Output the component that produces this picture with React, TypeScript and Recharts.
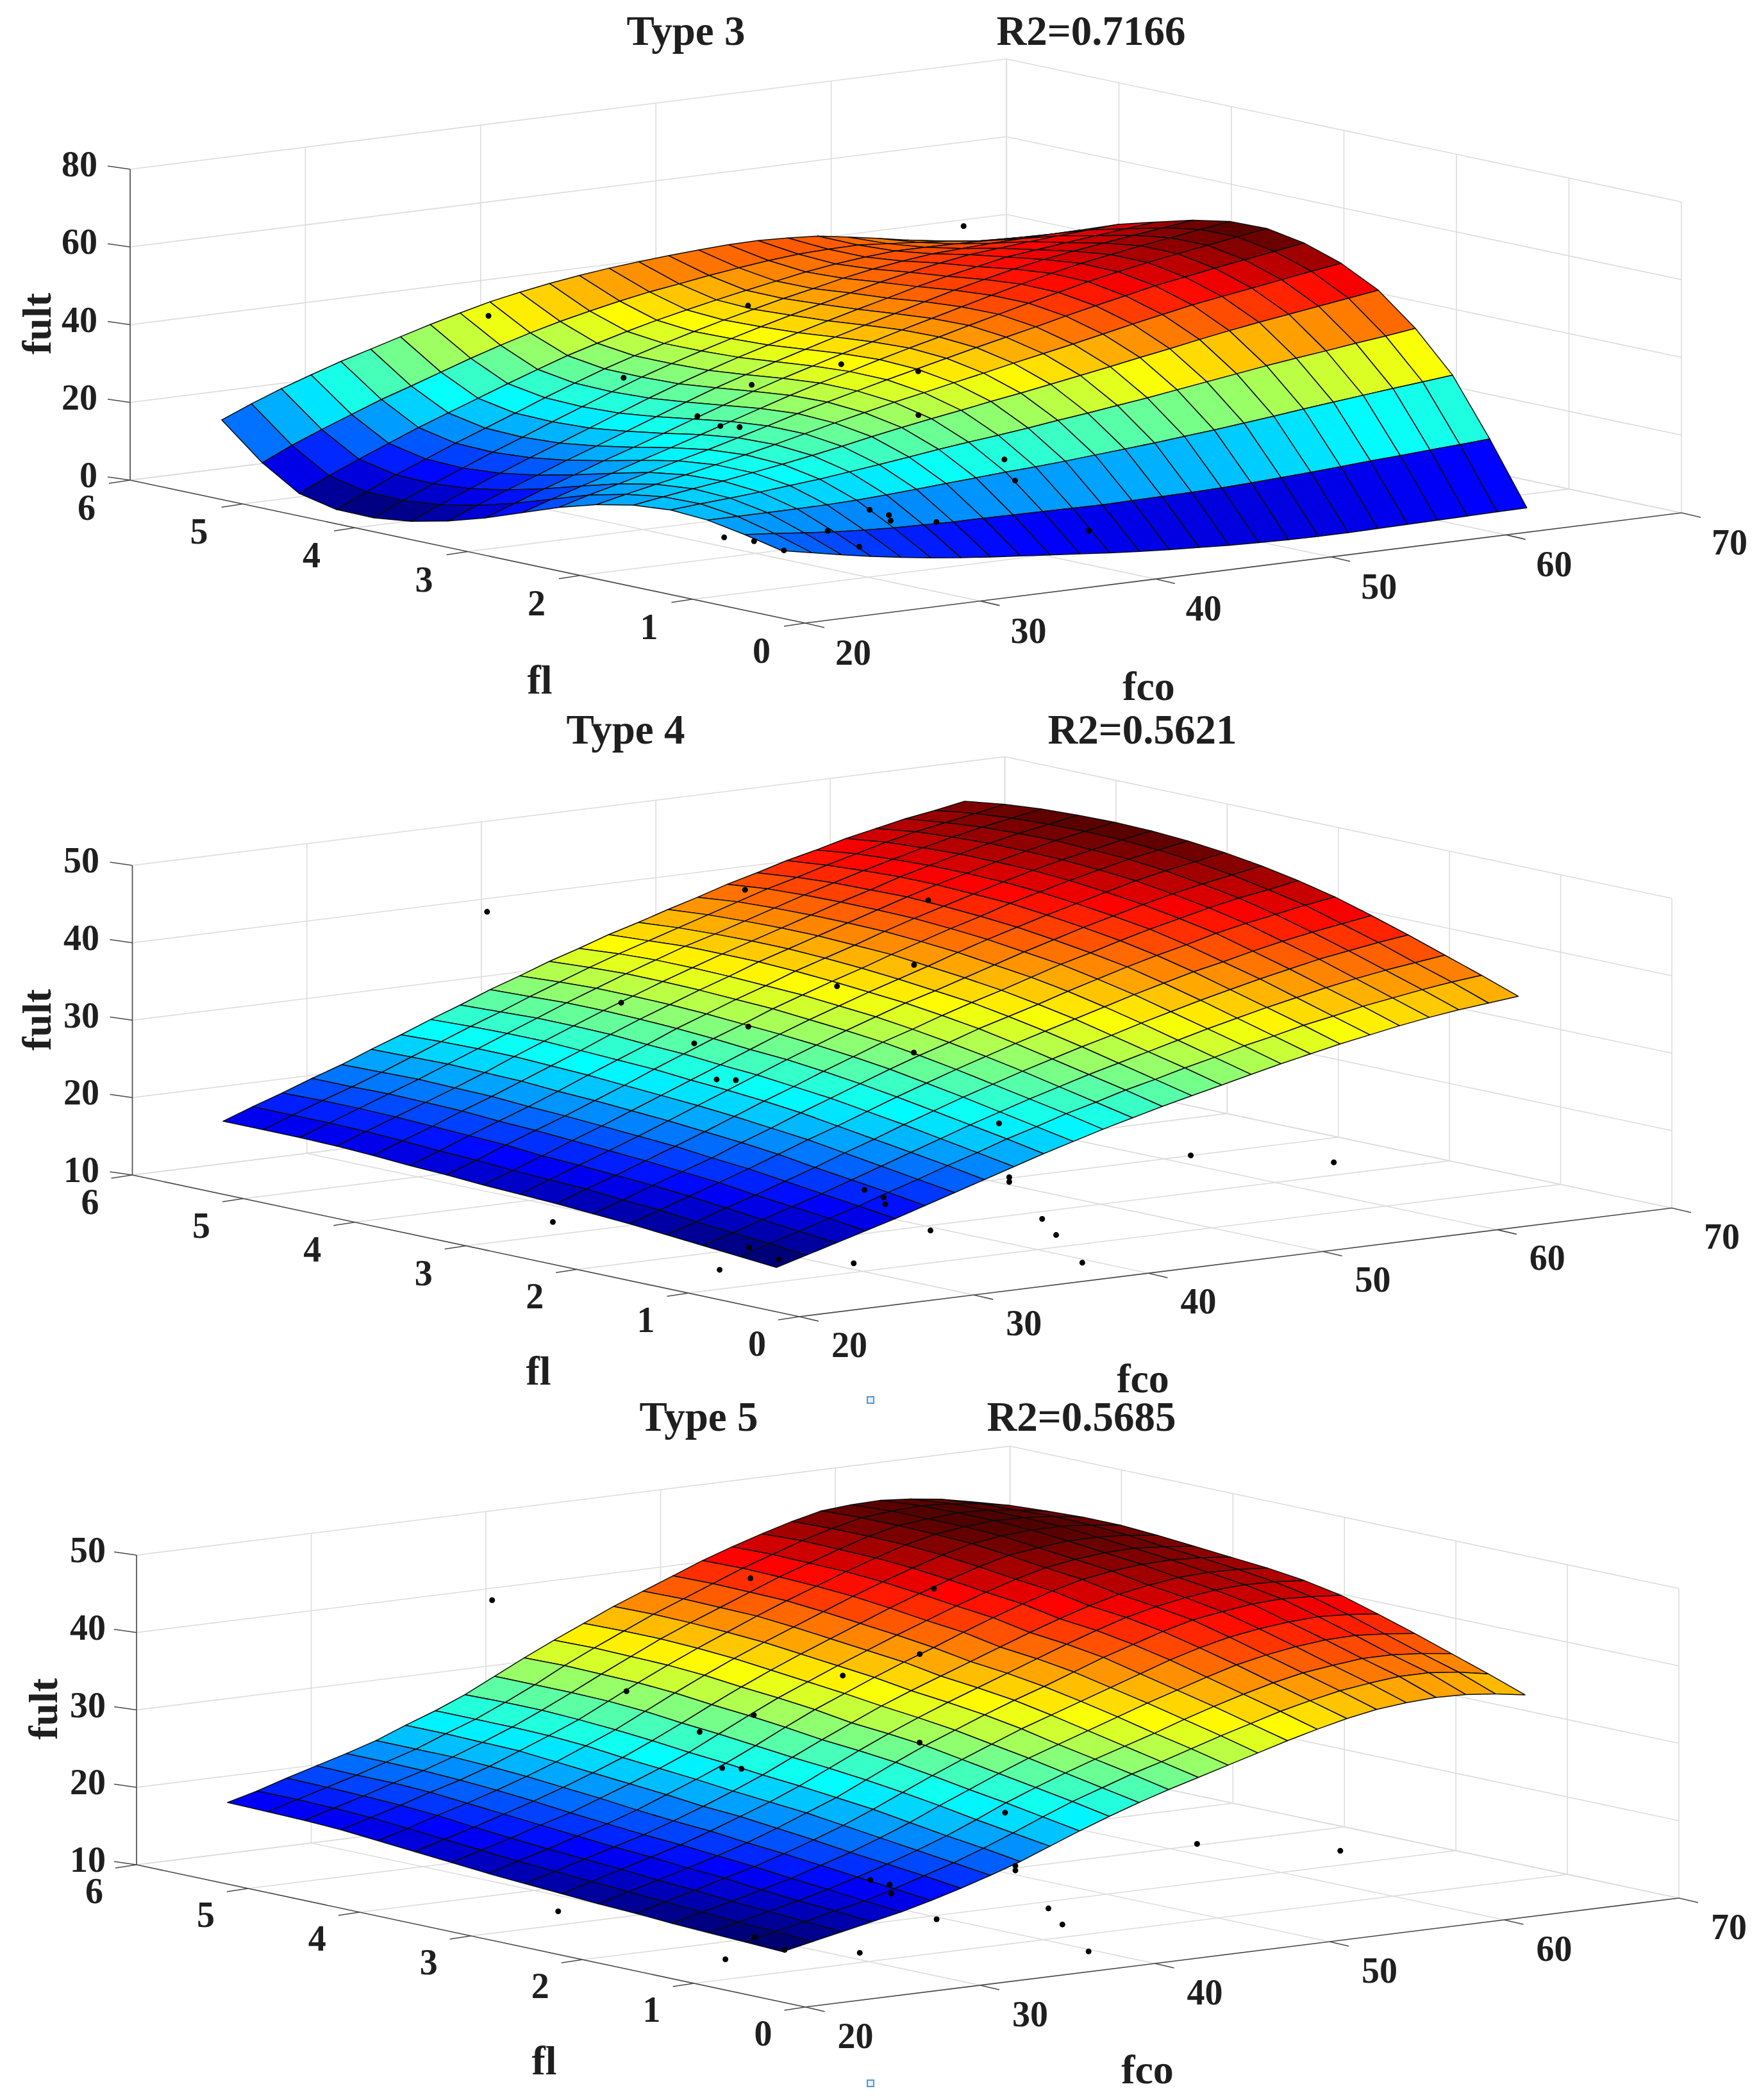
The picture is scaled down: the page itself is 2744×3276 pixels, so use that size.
import { ScatterChart, Scatter, XAxis, YAxis } from 'recharts';

const WIDTH = 2744;
const HEIGHT = 3276;

// surface nodes
const FCO = [21.5, 23.2, 24.9, 26.6, 28.3, 30, 31.7, 33.4, 35.1, 36.8, 38.5, 40.2, 41.9, 43.6, 45.3, 47, 48.7, 50.4, 52.1, 53.8, 55.5, 57.2, 58.9, 60.6, 62.3, 64];
const FL = [0.44, 0.77, 1.1, 1.43, 1.76, 2.09, 2.42, 2.75, 3.08, 3.41, 3.74, 4.07, 4.4, 4.73, 5.06, 5.42];

// fult per fl row
const TYPE3_FULT = [
  [15.1,13.6,12.1,10.7,9.5,8.4,7.5,6.7,6.0,5.3,4.6,3.9,3.3,2.8,2.4,2.0,1.7,1.5,1.4,1.4,1.5,1.6,1.7,1.8,1.9,2.0],
  [17.2,16.5,15.7,15.0,14.5,14.1,13.9,13.7,13.7,13.6,13.5,13.4,13.3,13.4,13.5,13.6,13.8,14.1,14.5,14.9,15.4,15.9,16.3,16.8,17.2,17.7],
  [18.9,18.9,18.9,18.9,19.0,19.2,19.6,20.1,20.6,21.1,21.6,22.0,22.5,23.1,23.7,24.3,25.0,25.7,26.5,27.3,28.2,29.0,29.8,30.6,31.3,32.1],
  [19.5,20.1,20.6,21.2,21.9,22.6,23.5,24.4,25.4,26.4,27.3,28.1,29.0,30.0,30.9,31.9,32.9,34.0,35.1,36.2,37.3,38.3,39.2,40.2,41.1,42.1],
  [18.7,19.9,21.0,22.0,23.2,24.4,25.7,27.1,28.6,30.0,31.3,32.5,33.8,35.0,36.3,37.6,38.9,40.3,41.6,43.0,44.3,45.5,46.6,47.7,48.8,49.9],
  [16.8,18.5,20.1,21.6,23.2,24.8,26.5,28.3,30.1,31.8,33.5,35.0,36.6,38.1,39.7,41.2,42.7,44.3,45.9,47.4,48.9,50.1,51.3,52.5,53.7,54.8],
  [14.1,16.3,18.2,20.2,22.2,24.1,26.2,28.3,30.5,32.5,34.4,36.3,38.1,39.9,41.7,43.4,45.1,46.9,48.6,50.2,51.8,53.1,54.4,55.6,56.8,58.0],
  [10.7,13.2,15.6,17.9,20.3,22.6,25.0,27.4,29.8,32.2,34.4,36.4,38.5,40.5,42.4,44.4,46.3,48.2,50.0,51.8,53.4,54.8,56.1,57.3,58.5,59.7],
  [7.3,10.1,12.9,15.5,18.2,20.7,23.3,26.0,28.6,31.2,33.6,35.8,38.0,40.1,42.2,44.2,46.2,48.2,50.1,51.9,53.5,54.8,56.1,57.2,58.4,59.5],
  [4.5,7.6,10.6,13.4,16.3,19.0,21.8,24.6,27.4,30.1,32.5,34.9,37.1,39.3,41.4,43.4,45.5,47.5,49.3,51.0,52.5,53.7,54.8,55.8,56.8,57.8],
  [2.4,5.7,8.9,11.9,14.9,17.7,20.6,23.5,26.4,29.1,31.6,34.0,36.2,38.4,40.5,42.5,44.4,46.4,48.1,49.6,51.1,52.0,52.9,53.7,54.5,55.3],
  [1.3,4.8,8.1,11.2,14.3,17.2,20.2,23.1,26.0,28.8,31.3,33.6,35.8,37.9,39.9,41.8,43.7,45.5,47.1,48.5,49.7,50.4,51.1,51.7,52.2,52.7],
  [1.4,5.0,8.4,11.5,14.6,17.5,20.4,23.4,26.2,28.9,31.3,33.5,35.6,37.6,39.4,41.2,42.8,44.5,45.9,47.0,47.9,48.3,48.7,48.9,49.1,49.2],
  [3.5,7.1,10.4,13.5,16.6,19.4,22.2,25.0,27.7,30.3,32.5,34.6,36.5,38.2,39.8,41.3,42.7,44.1,45.2,46.0,46.6,46.6,46.5,46.3,46.1,45.8],
  [9.4,12.9,16.0,18.9,21.8,24.3,26.9,29.5,31.9,34.1,36.1,37.8,39.4,40.8,41.9,43.1,44.1,45.0,45.7,46.0,46.1,45.5,44.9,44.2,43.3,42.5],
  [18.2,21.4,24.3,26.9,29.4,31.6,33.8,36.0,38.0,39.9,41.4,42.7,43.8,44.7,45.4,46.0,46.5,46.9,47.0,46.7,46.2,45.0,43.7,42.3,40.8,39.3],
];

const TYPE4_FULT = [
  [14.6,15.7,16.8,17.9,19.0,20.2,21.4,22.6,23.8,25.0,26.1,27.2,28.2,29.2,30.1,31.0,31.9,32.8,33.6,34.4,35.1,35.8,36.4,36.9,37.3,37.7],
  [15.0,16.2,17.3,18.5,19.6,20.9,22.1,23.4,24.6,25.9,27.0,28.2,29.2,30.3,31.2,32.2,33.1,34.1,34.9,35.8,36.5,37.3,37.9,38.5,39.0,39.4],
  [15.4,16.6,17.8,19.0,20.2,21.5,22.8,24.1,25.4,26.7,27.9,29.1,30.2,31.3,32.3,33.3,34.3,35.3,36.2,37.1,37.9,38.7,39.4,40.0,40.5,41.0],
  [15.8,17.0,18.3,19.5,20.8,22.1,23.5,24.8,26.2,27.5,28.8,30.0,31.2,32.3,33.4,34.4,35.5,36.5,37.5,38.4,39.3,40.1,40.9,41.5,42.1,42.6],
  [16.2,17.5,18.8,20.1,21.4,22.8,24.2,25.5,26.9,28.3,29.6,30.9,32.1,33.3,34.4,35.5,36.6,37.7,38.7,39.7,40.5,41.4,42.2,42.9,43.5,44.1],
  [16.5,17.8,19.2,20.5,21.8,23.3,24.7,26.2,27.6,29.0,30.4,31.7,32.9,34.2,35.3,36.4,37.6,38.7,39.8,40.8,41.7,42.7,43.5,44.2,44.9,45.5],
  [16.8,18.2,19.5,20.9,22.3,23.7,25.2,26.7,28.1,29.6,31.0,32.4,33.6,34.9,36.1,37.2,38.4,39.6,40.6,41.7,42.7,43.6,44.5,45.3,45.9,46.6],
  [17.0,18.4,19.8,21.2,22.6,24.1,25.6,27.1,28.6,30.1,31.5,32.9,34.2,35.5,36.6,37.8,39.0,40.2,41.3,42.4,43.4,44.4,45.3,46.1,46.8,47.5],
  [17.2,18.6,20.0,21.5,22.9,24.4,25.9,27.4,28.9,30.4,31.9,33.3,34.6,35.9,37.1,38.3,39.6,40.8,41.9,43.0,44.0,45.0,46.0,46.8,47.5,48.2],
  [17.5,18.9,20.4,21.8,23.2,24.7,26.2,27.8,29.3,30.8,32.2,33.7,35.0,36.3,37.5,38.8,40.0,41.2,42.3,43.5,44.5,45.5,46.4,47.3,48.0,48.7],
  [17.7,19.1,20.6,22.0,23.4,24.9,26.5,28.0,29.5,31.1,32.5,33.9,35.2,36.6,37.8,39.0,40.3,41.5,42.6,43.7,44.8,45.8,46.7,47.5,48.3,49.0],
  [18.0,19.4,20.8,22.3,23.7,25.2,26.7,28.2,29.8,31.3,32.7,34.1,35.4,36.8,38.0,39.2,40.4,41.6,42.8,43.9,44.9,45.9,46.8,47.7,48.4,49.1],
  [18.2,19.6,21.0,22.4,23.8,25.3,26.9,28.4,29.9,31.4,32.8,34.2,35.5,36.8,38.0,39.2,40.4,41.6,42.7,43.9,44.9,45.9,46.8,47.6,48.3,49.0],
  [18.3,19.7,21.1,22.5,23.9,25.4,26.9,28.4,29.9,31.4,32.8,34.2,35.5,36.8,37.9,39.1,40.3,41.5,42.6,43.7,44.7,45.7,46.6,47.4,48.1,48.8],
  [18.3,19.7,21.1,22.4,23.8,25.3,26.8,28.3,29.7,31.2,32.6,34.0,35.3,36.5,37.7,38.9,40.1,41.3,42.3,43.4,44.4,45.4,46.3,47.0,47.7,48.4],
  [18.3,19.7,21.0,22.4,23.7,25.2,26.6,28.1,29.5,31.0,32.3,33.7,34.9,36.2,37.3,38.5,39.6,40.8,41.8,42.9,43.8,44.8,45.6,46.4,47.0,47.7],
];

const TYPE5_FULT = [
  [15.4,16.2,17.0,17.8,18.6,19.6,20.7,21.9,23.2,24.7,26.2,27.6,28.9,30.1,31.2,32.3,33.4,34.5,35.5,36.4,37.1,37.5,37.7,37.6,37.2,36.6],
  [15.6,16.5,17.3,18.2,19.0,20.1,21.3,22.5,23.9,25.4,27.0,28.5,29.8,31.1,32.2,33.4,34.6,35.7,36.8,37.7,38.5,39.0,39.4,39.4,39.0,38.3],
  [15.8,16.7,17.6,18.5,19.5,20.6,21.8,23.1,24.5,26.1,27.8,29.3,30.7,32.0,33.2,34.4,35.7,36.9,38.0,39.0,39.8,40.3,40.7,40.7,40.4,39.9],
  [16.0,17.0,17.9,18.9,19.9,21.1,22.3,23.7,25.2,26.9,28.5,30.1,31.6,32.9,34.2,35.5,36.8,38.0,39.2,40.3,41.1,41.7,42.1,42.2,41.9,41.5],
  [16.3,17.3,18.3,19.4,20.4,21.6,22.9,24.3,25.9,27.6,29.3,30.9,32.4,33.9,35.2,36.5,37.8,39.1,40.4,41.5,42.4,43.0,43.4,43.6,43.4,43.0],
  [16.5,17.6,18.6,19.7,20.8,22.0,23.4,24.9,26.4,28.2,30.0,31.7,33.2,34.7,36.1,37.4,38.8,40.2,41.4,42.6,43.6,44.2,44.7,44.9,44.7,44.4],
  [16.8,17.9,19.0,20.1,21.2,22.5,23.9,25.3,26.9,28.7,30.5,32.2,33.8,35.3,36.7,38.1,39.5,40.9,42.2,43.4,44.3,45.0,45.5,45.7,45.6,45.3],
  [17.1,18.2,19.3,20.4,21.5,22.8,24.2,25.7,27.3,29.1,30.9,32.6,34.3,35.8,37.2,38.6,40.0,41.4,42.7,43.9,44.9,45.6,46.1,46.3,46.2,45.9],
  [17.4,18.5,19.6,20.8,21.9,23.2,24.7,26.2,27.8,29.6,31.5,33.3,34.9,36.5,38.0,39.4,40.9,42.3,43.6,44.8,45.8,46.4,46.8,46.9,46.7,46.3],
  [17.8,18.9,20.0,21.2,22.3,23.7,25.1,26.6,28.2,30.1,32.0,33.8,35.4,37.0,38.5,40.0,41.4,42.8,44.1,45.3,46.3,46.9,47.3,47.4,47.1,46.7],
  [18.2,19.3,20.4,21.6,22.8,24.1,25.5,27.0,28.7,30.5,32.4,34.2,35.9,37.5,39.0,40.5,42.0,43.4,44.7,45.9,46.9,47.4,47.8,47.8,47.6,47.1],
  [18.6,19.7,20.9,22.0,23.2,24.5,25.9,27.5,29.1,31.0,32.9,34.7,36.4,38.0,39.5,41.0,42.5,43.9,45.2,46.4,47.4,47.9,48.2,48.2,47.9,47.4],
  [19.0,20.1,21.2,22.4,23.5,24.8,26.3,27.8,29.4,31.3,33.2,35.0,36.7,38.3,39.9,41.4,42.8,44.2,45.5,46.7,47.6,48.1,48.4,48.3,48.0,47.4],
  [19.2,20.3,21.4,22.6,23.7,25.0,26.4,27.9,29.6,31.4,33.3,35.1,36.9,38.5,40.0,41.5,43.0,44.3,45.6,46.8,47.7,48.1,48.4,48.3,47.8,47.2],
  [19.3,20.4,21.5,22.6,23.8,25.0,26.5,27.9,29.6,31.4,33.4,35.2,36.9,38.6,40.1,41.6,43.1,44.4,45.7,46.8,47.7,48.1,48.3,48.1,47.6,46.9],
  [19.4,20.4,21.6,22.7,23.8,25.0,26.5,27.9,29.5,31.4,33.3,35.1,36.8,38.5,40.0,41.5,43.0,44.3,45.5,46.6,47.5,47.8,47.9,47.6,47.1,46.3],
];

// measured specimens
const DOT_FCO = [24.4,36,28.9,33,34.9,29.9,28,29.1,30.1,21.8,21.9,22,21.8,26.3,46.5,42.5,39.3,41,31.2,31.3,38.4,38.4,48.8,57,30.7,37.1,37.9,39.4,26.1,48.3];
const DOT_FL = [3.5,3,3,2.5,2,2.5,2,2,1,2.5,0.75,0.5,1,0.5,3,2.5,2,1.5,1,1,1,1,1,1,0.5,0.5,0.5,0.5,0.75,3];
const DOT_TYPE3 = [55.1,54.2,39.7,38.6,45.9,32.3,33.9,33,17.3,null,15.4,14.5,14.9,13,null,36.7,30.3,21,15.3,13.8,20.1,null,null,null,16.9,null,null,9.7,15.7,67.7];
const DOT_TYPE4 = [50.4,51.5,38.9,36.2,42.4,34.9,32.3,31.9,20.5,14.1,16.1,15.3,12.5,13.6,47.2,41.5,32.6,24.5,19.2,18.3,19.8,19.2,19.7,16.5,16.6,16.3,14,10,null,null];
const DOT_TYPE5 = [50.6,51.7,39.1,36.4,42.5,35.1,32.5,32.1,20.5,14.2,16.2,15.3,12.6,13.7,47.4,41.6,32.6,24.6,19.6,18.4,20,19.4,19.9,16.7,16.8,16.4,14.1,10.2,null,null];

const FCO_TICKS = [20, 30, 40, 50, 60, 70];
const FL_TICKS = [0, 1, 2, 3, 4, 5, 6];
const TYPE3_TICKS = [0, 20, 40, 60, 80];
const TYPE45_TICKS = [10, 20, 30, 40, 50];

// the orthographic view of each panel, in page pixels
const PANELS = [
  {
    title: 'Type 3', r2: 'R2=0.7166', grid: TYPE3_FULT, dots: DOT_TYPE3, zTicks: TYPE3_TICKS,
    ox: 1256, oy: 972, fx: 1367, fy: -172, lx: -1053, ly: -223, zh: 485,
    titleX: 1070, r2X: 1702, titleY: 70, fultX: 57, fultY: 505, zLabelX: 152,
    flLabel: [842, 1060], fcoLabel: [1792, 1070], flOff: [-68, 43], fcoOff: [75, 46],
  },
  {
    title: 'Type 4', r2: 'R2=0.5621', grid: TYPE4_FULT, dots: DOT_TYPE4, zTicks: TYPE45_TICKS,
    ox: 1247, oy: 2054, fx: 1361, fy: -169.5, lx: -1040.5, ly: -221, zh: 483,
    titleX: 976, r2X: 1782, titleY: 1160, fultX: 57, fultY: 1591, zLabelX: 155,
    flLabel: [840, 2138], fcoLabel: [1783, 2150], flOff: [-66, 42], fcoOff: [78, 44],
  },
  {
    title: 'Type 5', r2: 'R2=0.5685', grid: TYPE5_FULT, dots: DOT_TYPE5, zTicks: TYPE45_TICKS,
    ox: 1256.5, oy: 3131, fx: 1362.5, fy: -170, lx: -1043.5, ly: -222, zh: 483,
    titleX: 1090, r2X: 1687, titleY: 2232, fultX: 67, fultY: 2666, zLabelX: 165,
    flLabel: [849, 3214], fcoLabel: [1790, 3228], flOff: [-66, 41], fcoOff: [78, 45],
  },
];

const STRAY_MARKS = [{ px: 1358, py: 2184 }, { px: 1358, py: 3250 }];

const JET = [
  [0, [0, 0, 95]],
  [0.14, [0, 0, 255]],
  [0.37, [0, 255, 255]],
  [0.61, [255, 255, 0]],
  [0.86, [255, 0, 0]],
  [1, [75, 0, 0]],
];

function jetColor(t) {
  const v = Math.max(0, Math.min(1, t));
  for (let k = 1; k < JET.length; k++) {
    if (v <= JET[k][0]) {
      const [t0, c0] = JET[k - 1];
      const [t1, c1] = JET[k];
      const r = (v - t0) / (t1 - t0);
      return `rgb(${c0.map((c, n) => Math.round(c + (c1[n] - c) * r)).join(',')})`;
    }
  }
  return 'rgb(75,0,0)';
}

function project(p, fco, fl, z) {
  const a = (fco - 20) / 50;
  const b = fl / 6;
  const zLow = p.zTicks[0];
  const zHigh = p.zTicks[p.zTicks.length - 1];
  const c = (z - zLow) / (zHigh - zLow);
  return [p.ox + a * p.fx + b * p.lx, p.oy + a * p.fy + b * p.ly - c * p.zh];
}

function seg(a, b) {
  return { px: a[0], py: a[1], dx: b[0] - a[0], dy: b[1] - a[1] };
}

function gridSegments(p) {
  const z0 = p.zTicks[0];
  const zTop = p.zTicks[p.zTicks.length - 1];
  const out = [];
  FCO_TICKS.forEach((f) => {
    out.push(seg(project(p, f, 0, z0), project(p, f, 6, z0)));
    out.push(seg(project(p, f, 6, z0), project(p, f, 6, zTop)));
  });
  FL_TICKS.forEach((l) => {
    out.push(seg(project(p, 20, l, z0), project(p, 70, l, z0)));
    out.push(seg(project(p, 70, l, z0), project(p, 70, l, zTop)));
  });
  p.zTicks.forEach((z) => {
    out.push(seg(project(p, 20, 6, z), project(p, 70, 6, z)));
    out.push(seg(project(p, 70, 6, z), project(p, 70, 0, z)));
  });
  return out;
}

function axisSegments(p) {
  const z0 = p.zTicks[0];
  const zTop = p.zTicks[p.zTicks.length - 1];
  const out = [
    seg(project(p, 20, 0, z0), project(p, 20, 6, z0)),
    seg(project(p, 20, 0, z0), project(p, 70, 0, z0)),
    seg(project(p, 20, 6, z0), project(p, 20, 6, zTop)),
  ];
  FL_TICKS.forEach((l) => {
    const a = project(p, 20, l, z0);
    out.push(seg(a, [a[0] - 33, a[1] + 5]));
  });
  FCO_TICKS.forEach((f) => {
    const a = project(p, f, 0, z0);
    out.push(seg(a, [a[0] + 30, a[1] + 7]));
  });
  p.zTicks.forEach((z) => {
    const a = project(p, 20, 6, z);
    out.push(seg(a, [a[0] - 35, a[1] - 5]));
  });
  return out;
}

function surfaceCells(p) {
  const flat = p.grid.flat();
  const lo = Math.min(...flat);
  const hi = Math.max(...flat);
  const out = [];
  // far corner first so the near cells paint over it
  for (let j = FL.length - 2; j >= 0; j--) {
    for (let i = FCO.length - 2; i >= 0; i--) {
      const nodes = [[i, j], [i + 1, j], [i + 1, j + 1], [i, j + 1]];
      const corners = nodes.map(([n, m]) => project(p, FCO[n], FL[m], p.grid[m][n]));
      const mean = nodes.reduce((s, [n, m]) => s + p.grid[m][n], 0) / 4;
      out.push({
        px: corners[0][0],
        py: corners[0][1],
        offsets: corners.map((c) => [c[0] - corners[0][0], c[1] - corners[0][1]]),
        fill: jetColor((mean - lo) / (hi - lo)),
      });
    }
  }
  return out;
}

function specimenDots(p) {
  const out = [];
  p.dots.forEach((z, k) => {
    if (z === null) return;
    const c = project(p, DOT_FCO[k], DOT_FL[k], z);
    out.push({ px: c[0], py: c[1] });
  });
  return out;
}

function panelTexts(p) {
  const z0 = p.zTicks[0];
  const out = [
    { px: p.titleX, py: p.titleY, label: p.title, size: 65, anchor: 'middle' },
    { px: p.r2X, py: p.titleY, label: p.r2, size: 65, anchor: 'middle' },
    { px: p.fultX, py: p.fultY, label: 'fult', size: 64, anchor: 'middle', mid: true, rotate: true },
    { px: p.flLabel[0], py: p.flLabel[1], label: 'fl', size: 64, anchor: 'middle', mid: true },
    { px: p.fcoLabel[0], py: p.fcoLabel[1], label: 'fco', size: 64, anchor: 'middle', mid: true },
  ];
  p.zTicks.forEach((z) => {
    const c = project(p, 20, 6, z);
    out.push({ px: p.zLabelX, py: c[1] - 8, label: String(z), size: 56, anchor: 'end', mid: true });
  });
  FL_TICKS.forEach((l) => {
    const c = project(p, 20, l, z0);
    out.push({ px: c[0] + p.flOff[0], py: c[1] + p.flOff[1], label: String(l), size: 56, anchor: 'middle', mid: true });
  });
  FCO_TICKS.forEach((f) => {
    const c = project(p, f, 0, z0);
    out.push({ px: c[0] + p.fcoOff[0], py: c[1] + p.fcoOff[1], label: String(f), size: 56, anchor: 'middle', mid: true });
  });
  return out;
}

const GridLine = ({ cx, cy, payload }) => (
  <line x1={cx} y1={cy} x2={cx + payload.dx} y2={cy + payload.dy} stroke="#dcdcdc" strokeWidth={1.6} />
);

const AxisLine = ({ cx, cy, payload }) => (
  <line x1={cx} y1={cy} x2={cx + payload.dx} y2={cy + payload.dy} stroke="#4a4a4a" strokeWidth={1.6} />
);

const Cell3D = ({ cx, cy, payload }) => (
  <polygon
    points={payload.offsets.map((o) => `${cx + o[0]},${cy + o[1]}`).join(' ')}
    fill={payload.fill}
    stroke="#0c0c0c"
    strokeWidth={1.5}
    strokeLinejoin="round"
  />
);

const Dot = ({ cx, cy }) => <circle cx={cx} cy={cy} r={4.5} fill="#000" />;

const Stray = ({ cx, cy }) => (
  <rect x={cx - 5} y={cy - 5} width={10} height={10} fill="#e6f0fa" stroke="#4f97d6" strokeWidth={2} />
);

const Label3D = ({ cx, cy, payload }) => (
  <text
    x={cx}
    y={cy}
    textAnchor={payload.anchor}
    dominantBaseline={payload.mid ? 'central' : 'auto'}
    fontFamily="'Liberation Serif', serif"
    fontWeight="bold"
    fontSize={payload.size}
    fill="#1f1f1f"
    transform={payload.rotate ? `rotate(-90 ${cx} ${cy})` : undefined}
  >
    {payload.label}
  </text>
);

export default function App() {
  return (
    <div style={{ position: 'absolute', left: 0, top: 0, width: WIDTH, height: HEIGHT, background: '#fff' }}>
      <ScatterChart width={WIDTH} height={HEIGHT} margin={{ top: 0, right: 0, bottom: 0, left: 0 }}>
        <XAxis type="number" dataKey="px" domain={[0, WIDTH]} hide />
        <YAxis type="number" dataKey="py" domain={[0, HEIGHT]} reversed hide />
        {PANELS.map((p) => [
          <Scatter key={`${p.title}-grid`} data={gridSegments(p)} shape={GridLine} isAnimationActive={false} />,
          <Scatter key={`${p.title}-axes`} data={axisSegments(p)} shape={AxisLine} isAnimationActive={false} />,
          <Scatter key={`${p.title}-surface`} data={surfaceCells(p)} shape={Cell3D} isAnimationActive={false} />,
          <Scatter key={`${p.title}-dots`} data={specimenDots(p)} shape={Dot} isAnimationActive={false} />,
          <Scatter key={`${p.title}-text`} data={panelTexts(p)} shape={Label3D} isAnimationActive={false} />,
        ])}
        <Scatter data={STRAY_MARKS} shape={Stray} isAnimationActive={false} />
      </ScatterChart>
    </div>
  );
}
